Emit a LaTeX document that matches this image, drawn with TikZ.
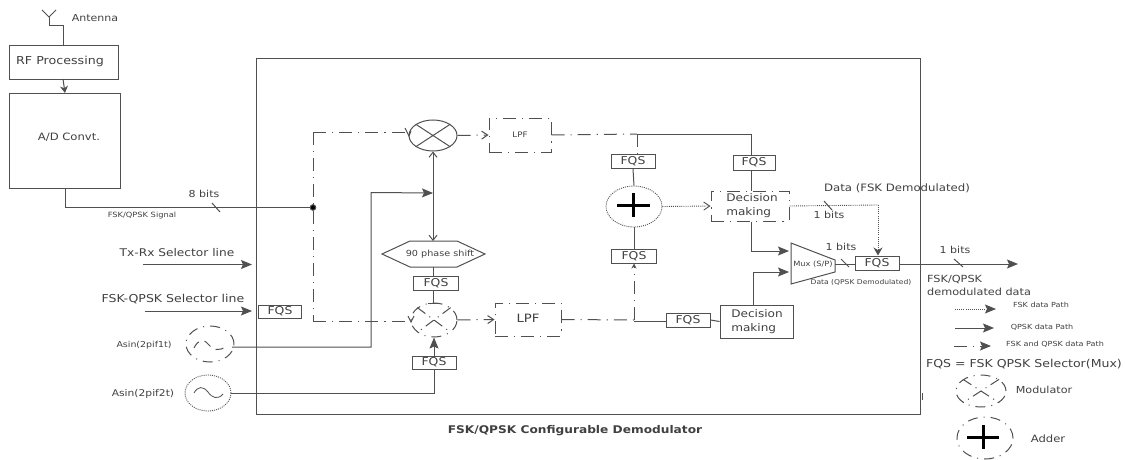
\documentclass[tikz,border=0pt]{standalone}
\usepackage{fontspec}
\setmainfont[FakeStretch=1.15]{DejaVu Sans}
\usetikzlibrary{arrows.meta,shapes.geometric}
\definecolor{ln}{HTML}{505050}
\definecolor{tx}{HTML}{404040}
\newcommand{\fs}[1]{\fontsize{#1}{#1}\selectfont}
\tikzset{
  every node/.style={text=tx,font=\fs{9.6}},
  ln/.style={draw=ln,line width=1pt},
  blk/.style={ln,rectangle,inner sep=0pt,align=left},
  fqs/.style={blk,minimum width=44pt,minimum height=14pt,font=\fs{10.8},align=center},
  lbl/.style={inner sep=0pt},
  dec/.style={inner sep=0pt,align=left,font=\fontsize{10.5}{14}\selectfont},
  tiny/.style={inner sep=0pt,font=\fs{7}},
  dd/.style={dash pattern=on 13pt off 6pt on 1.2pt off 6pt},
  dsh/.style={ln,dd},
  dot/.style={draw=ln,line width=0.9pt,dash pattern=on 1pt off 1.1pt},
  sol/.style={-{Stealth[length=11pt,width=9pt,inset=2pt]}},
  opn/.style={-{Straight Barb[length=6pt,width=8pt]}},
  ell/.style={ellipse,inner sep=0pt},
  ddell/.style={ell,draw=ln,line width=1pt,dash pattern=on 10pt off 6pt on 1pt off 6pt},
}
\begin{document}
\begin{tikzpicture}[x=1pt,y=-1pt]
\useasboundingbox (0,0) rectangle (1125,460);
% left chain
\node[blk,minimum width=109pt,minimum height=34pt,anchor=north west] (rf) at (9,45) {};
\node[lbl,font=\fs{11}] (rft) at (60,61) {RF Processing};
\node[blk,minimum width=111pt,minimum height=95pt,anchor=north west] (ad) at (9,93) {};
\node[lbl,font=\fs{10.1}] (adt) at (69,137) {A/D Convt.};
\node[lbl] (ant) at (95,18) {Antenna};
\coordinate (a0) at (49,17);
\coordinate (a1) at (49,26);
\coordinate (a2) at (63,26);
\coordinate (atl) at (42,10);
\coordinate (atr) at (56,10);
\coordinate (rfb) at (63,79);
\coordinate (adt0) at (65,93);
\draw[ln] (atl) -- (a0) -- (atr);
\draw[ln] (a0) -- (a1) -- (a2) -- (a2 |- rf.north);
\draw[ln,-{Stealth[length=7pt,width=8pt]}] (rfb) -- (adt0);
% main frame
\node[blk,minimum width=664pt,minimum height=356pt,anchor=north west] (frame) at (256,58) {};
\draw[ln] (922,393) -- (922,400);
\node[lbl,font=\bfseries\fs{10.6}] (title) at (575,431) {FSK/QPSK Configurable Demodulator};
% input
\coordinate (adb0) at (65,188);
\coordinate (adb) at (65,207.5);
\coordinate (jn) at (313,207.5);
\draw[ln] (adb0) -- (adb) -- (jn);
\fill[ln] (jn) circle (2.8pt);
\draw[ln] (212,203) -- (220,212);
\node[lbl] (b8) at (204,194) {8 bits};
\node[tiny,font=\fs{7.2}] (sig) at (142,216) {FSK/QPSK Signal};
% selector lines
\node[lbl,font=\fs{10.6}] (tx) at (177,253) {Tx-Rx Selector line};
\coordinate (txs) at (143,264.5);
\coordinate (txe) at (252,264.5);
\draw[ln,sol] (txs) -- (txe);
\node[lbl,font=\fs{10.9}] (fq) at (173,299.5) {FSK-QPSK Selector line};
\coordinate (fqs0s) at (145,311);
\coordinate (fqs0e) at (252,311);
\draw[ln,sol] (fqs0s) -- (fqs0e);
\node[fqs,minimum width=43pt,minimum height=13pt] (f0) at (280,311.5) {FQS};
% oscillators
\node[lbl,font=\fs{8.2}] (s1) at (144,345) {Asin(2pif1t)};
\node[lbl,font=\fs{9.3}] (s2) at (143,394) {Asin(2pif2t)};
\node[ddell,minimum width=48pt,minimum height=36pt] (o1) at (210,344) {};
\node[ell,dot,minimum width=46pt,minimum height=36pt] (o2) at (208,393) {};
\draw[ln,dash pattern=on 8pt off 6pt] (194,348) .. controls (198,340) and (203,338) .. (208,344) .. controls (212,350) and (220,352) .. (226,346);
\draw[draw=ln,line width=0.8pt] (194,393) .. controls (198,386) and (203,386) .. (208,392) .. controls (212,398) and (218,400) .. (223,394);
% mixers
\node[ell,ln,minimum width=48pt,minimum height=31pt] (m1) at (433,135.5) {};
\draw[ln] (m1.north west) -- (m1.south east) (m1.north east) -- (m1.south west);
\node[ddell,minimum width=46pt,minimum height=34pt] (m2) at (434,320) {};
\draw[ln,dash pattern=on 10pt off 5pt on 1pt off 5pt] (m2.north west) -- (m2.south east) (m2.north east) -- (m2.south west);
% LPFs
\node[blk,dsh,minimum width=62pt,minimum height=34pt,font=\fs{7.6},align=center] (l1) at (520,135) {LPF};
\node[blk,dsh,minimum width=66pt,minimum height=33pt,align=center,font=\fs{11.5}] (l2) at (528,319.5) {\raisebox{2pt}{LPF}};
% dash-dot feed
\coordinate (t1) at (313,132);
\coordinate (t2) at (313,321);
\coordinate (t1e) at (409,132);
\coordinate (t2e) at (411,321);
\draw[dsh] (t1) -- (t2);
\draw[dsh] (t1) -- (t1e);
\draw[dsh] (t2) -- (t2e);
\draw[ln] (405,128) -- (409,136) -- (411,131);
\draw[ln] (408,316) -- (411,322) -- (414,316);
\draw[dsh,opn] (m1.east) -- (l1.west);
\draw[dsh,opn] (m2.east) -- (l2.west);
% phase path
\node[lbl,font=\fs{8.4}] (ph) at (440,254) {90 phase shift};
\coordinate (h1) at (382,254);
\coordinate (h2) at (410,241);
\coordinate (h3) at (457,241);
\coordinate (h4) at (485,254);
\coordinate (h5) at (457,267);
\coordinate (h6) at (410,267);
\draw[ln] (h1) -- (h2) -- (h3) -- (h4) -- (h5) -- (h6) -- cycle;
\coordinate (htop) at (433,241);
\coordinate (hbot) at (433,267);
\coordinate (sw) at (433,193);
\draw[ln,-{Straight Barb[length=5pt,width=8pt]}] (sw) -- (m1.south);
\draw[ln,-{Straight Barb[length=5pt,width=8pt]}] (sw) -- (htop);
\node[fqs,minimum width=45pt,minimum height=14pt] (f4) at (436,283) {FQS};
\draw[ln] (hbot) -- (hbot |- f4.north);
\coordinate (f4b) at (433,290);
\draw[ln] (f4b) -- (m2.north -| f4b);
\draw[ln] (428,303) -- (438,303);
\node[fqs,minimum width=44pt,minimum height=13pt] (f7) at (434,362.5) {FQS};
\draw[ln,sol] (f7.north) -- (m2.south);
% oscillator feeds
\coordinate (o1e) at (232,347);
\coordinate (o1c) at (371,347);
\coordinate (o1t) at (371,192.5);
\draw[ln,sol] (o1e) -- (o1c) -- (o1t) -- (sw);
\coordinate (o2c) at (434,393);
\draw[ln] (o2.east) -- (o2c) -- (f7.south);
% sum branch
\node[ell,dot,minimum width=56pt,minimum height=41pt] (add) at (634,206.5) {};
\draw[black,line width=3pt] (617,205) -- (650,205) (633.5,193) -- (633.5,217);
\node[fqs] (f1) at (633,161.5) {FQS};
\node[fqs,minimum width=45pt] (f5) at (634,256) {FQS};
\node[fqs,minimum width=42pt,minimum height=15pt] (f2) at (754,162.5) {FQS};
\coordinate (tp) at (637,134);
\coordinate (tq) at (751,134);
\draw[dsh] (l1.east) -- (tp);
\draw[ln] (tp) -- (tq) -- (tq |- f2.north);
\draw[ln,dd] (tp) -- (tp |- f1.north);
\draw[ln] (f1.south) -- (add.north);
\draw[ln] (add.south) -- (f5.north);
% decision
\node[blk,dsh,minimum width=78pt,minimum height=30pt] (d1) at (750,206) {};
\node[dec] (d1t) at (752,206) {Decision\\making};
\node[blk,minimum width=73pt,minimum height=33pt] (d2) at (756.5,321.5) {};
\node[dec] (d2t) at (757,321.5) {Decision\\making};
\draw[ln] (tq |- f2.south) -- (tq |- d1.north);
\draw[dot,opn] (add.east) -- (d1.west);
% lower path
\coordinate (bj) at (634,320);
\coordinate (bj2) at (634,321);
\node[fqs,minimum height=14pt] (f6) at (688,320) {FQS};
\draw[dsh] (l2.east) -- (bj);
\draw[ln,dd,-{Stealth[length=5pt,width=5pt]}] (bj) -- (f5.south);
\draw[ln] (bj2) -- (f6.west |- bj2);
\draw[ln] (f6.east) -- (d2.west);
% mux
\coordinate (mx1) at (791,243);
\coordinate (mx2) at (835,260);
\coordinate (mx3) at (835,272);
\coordinate (mx4) at (791,284);
\draw[ln] (mx1) -- (mx2) -- (mx3) -- (mx4) -- cycle;
\node[lbl,font=\fs{7.2}] (mxt) at (813,264) {Mux (S/P)};
\coordinate (d1c) at (751,251);
\coordinate (d1e) at (789,251);
\draw[ln,sol] (tq |- d1.south) -- (d1c) -- (d1e);
\coordinate (d2t0) at (753,305);
\coordinate (d2c) at (753,272);
\coordinate (d2e) at (789,272);
\draw[ln,sol] (d2t0) -- (d2c) -- (d2e);
% output
\node[fqs,minimum width=44pt,minimum height=14pt] (f3) at (877,263) {FQS};
\coordinate (mxo) at (835,264);
\draw[ln] (mxo) -- (f3.west |- mxo);
\draw[ln] (841,259) -- (849,267);
\node[lbl] (b2) at (841,247) {1 bits};
\node[tiny,font=\fs{6.6}] (dq) at (861,282) {Data (QPSK Demodulated)};
\coordinate (oe) at (1018,264);
\draw[ln,sol] (f3.east |- oe) -- (oe);
\draw[ln] (954,259) -- (963,267);
\node[lbl] (b3) at (955,250) {1 bits};
\coordinate (dc) at (878,205);
\draw[dot] (d1.east) -- (dc);
\draw[dot,-{Stealth[length=8pt,width=9pt]}] (dc) -- (f3.north -| dc);
\draw[ln] (824,201) -- (832,210);
\node[lbl] (b1) at (829,215) {1 bits};
\node[lbl,font=\fs{10.2}] (df) at (897,188) {Data (FSK Demodulated)};
\node[lbl,align=left,font=\fontsize{9.8}{13}\selectfont,anchor=west] (fd) at (927,285.5) {FSK/QPSK\\demodulated data};
% legend
\coordinate (lg1a) at (955,309);
\coordinate (lg1b) at (996,309);
\coordinate (lg2a) at (955,328);
\coordinate (lg2b) at (994,328);
\coordinate (lg3a) at (954,346);
\coordinate (lg3b) at (991,346);
\draw[dot,sol] (lg1a) -- (lg1b);
\draw[ln,sol] (lg2a) -- (lg2b);
\draw[dsh,sol] (lg3a) -- (lg3b);
\node[tiny] (lt1) at (1041,305) {FSK data Path};
\node[tiny] (lt2) at (1042,327) {QPSK data Path};
\node[tiny] (lt3) at (1055,344) {FSK and QPSK data Path};
\node[lbl,font=\fs{10.9}] (fqk) at (1024,364) {FQS = FSK QPSK Selector(Mux)};
\node[ddell,minimum width=50pt,minimum height=32pt] (lm) at (981,391) {};
\draw[ln,dash pattern=on 10pt off 5pt on 1pt off 5pt] (lm.north west) -- (lm.south east) (lm.north east) -- (lm.south west);
\node[lbl,font=\fs{9.7}] (lmt) at (1044,390) {Modulator};
\node[ddell,minimum width=56pt,minimum height=42pt] (la) at (985,438) {};
\draw[black,line width=3pt] (967,437) -- (999,437) (983,425) -- (983,449);
\node[lbl,font=\fs{10.1}] (lat) at (1048,439) {Adder};
\end{tikzpicture}
\end{document}
